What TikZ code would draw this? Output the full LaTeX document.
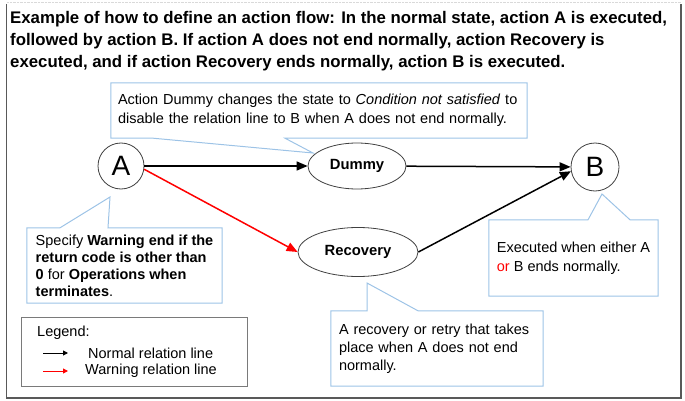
\documentclass[tikz,border=0pt]{standalone}
\usepackage{fontspec}
\setmainfont{Liberation Sans}
\usetikzlibrary{shapes.geometric, arrows.meta, positioning}
\definecolor{noteblue}{RGB}{157,195,230}
\definecolor{framegray}{RGB}{89,89,89}
\definecolor{shapegray}{RGB}{64,64,64}

\begin{document}
\begin{tikzpicture}[
    x=1pt, y=-1pt,
    state/.style={
        circle,
        draw=shapegray,
        line width=0.8pt,
        inner sep=0pt,
        font=\fontsize{28}{28}\selectfont
    },
    action/.style={
        ellipse,
        draw=shapegray,
        line width=0.8pt,
        inner sep=0pt,
        font=\fontsize{14.8}{18}\selectfont\bfseries
    },
    note/.style={
        inner xsep=7pt,
        inner ysep=0pt,
        align=left,
        font=\fontsize{14.5}{19}\selectfont
    },
    noteline/.style={draw=noteblue, line width=1pt},
    arrow/.style={-{Triangle[length=11pt, width=9pt]}, line width=1.5pt},
    warn/.style={arrow, color=red},
    legarrow/.style={-{Triangle[length=5pt, width=5pt]}, line width=1pt}
]
\useasboundingbox (0,0) rectangle (685,401);

% outer frame
\draw[black!15, densely dotted] (7,2) -- (681,2);
\draw[framegray, line width=1pt] (6,4) -- (6,398);
\draw[framegray, line width=2pt] (6,398) -- (681,398) -- (681,4);

% title
\node[anchor=north west, align=left, inner sep=0pt,
      font=\fontsize{16.8}{22}\selectfont\bfseries] (title) at (10,11.5)
    {Example of how to define an action flow: In the normal state, action A is executed,\\
     followed by action B. If action A does not end normally, action Recovery is\\
     executed, and if action Recovery ends normally, action B is executed.};

% actions
\node[state, minimum size=46pt] (A) at (121,166) {A};
\node[action, minimum width=98pt, minimum height=46pt] (dummy) at (357,166) {Dummy};
\node[action, minimum width=120pt, minimum height=49pt] (recovery) at (358,252) {Recovery};
\node[state, minimum size=48pt] (B) at (595,167) {B};

\draw[arrow] (A) -- (dummy);
\draw[arrow] (dummy) -- (B);
\draw[arrow] (recovery.east) -- (B.190);
\draw[warn] (A.-8) -- (recovery.west);

% callouts
\node[note, text width=402pt, minimum width=416pt, minimum height=55pt] (dummynote) at (319,110.5)
    {Action Dummy changes the state to \textit{Condition not satisfied} to\\
     disable the relation line to B when A does not end normally.};
\coordinate (dummytip) at (313,153);
\draw[noteline] (dummynote.north west) -- (dummynote.north east) -- (dummynote.south east)
    -- (285,0 |- dummynote.south) -- (dummytip) -- (153,0 |- dummynote.south)
    -- (dummynote.south west) -- cycle;

\node[note, minimum width=195pt, minimum height=75pt,
      font=\fontsize{14.5}{17}\selectfont] (warnnote) at (124.5,265.5)
    {Specify \textbf{Warning end if the}\\
     \textbf{return code is other than}\\
     \textbf{0} for \textbf{Operations when}\\
     \textbf{terminates}.};
\coordinate (warntip) at (110,197);
\draw[noteline] (warnnote.south west) -- (warnnote.north west) -- (60,0 |- warnnote.north)
    -- (warntip) -- (108,0 |- warnnote.north) -- (warnnote.north east)
    -- (warnnote.south east) -- cycle;

\node[note, minimum width=169pt, minimum height=76pt] (bnote) at (573.5,258)
    {Executed when either A\\
     \textcolor{red}{or} B ends normally.};
\coordinate (btip) at (602,194);
\draw[noteline] (bnote.south west) -- (bnote.north west) -- (588,0 |- bnote.north)
    -- (btip) -- (630,0 |- bnote.north) -- (bnote.north east)
    -- (bnote.south east) -- cycle;

\node[note, inner xsep=8pt, text width=196pt, minimum width=212pt, minimum height=75pt,
      font=\fontsize{14.5}{18}\selectfont] (recnote) at (437,348.5)
    {A recovery or retry that takes\\
     place when A does not end\\
     normally.};
\coordinate (rectip) at (367,283);
\draw[noteline] (recnote.south west) -- (recnote.north west) -- (rectip |- recnote.north)
    -- (rectip) -- (418,0 |- recnote.north) -- (recnote.north east)
    -- (recnote.south east) -- cycle;

% legend
\node[draw=framegray!80, line width=1pt, minimum width=226pt, minimum height=69pt] (legend) at (134,351.5) {};
\node[note, anchor=west, inner xsep=0pt] (legendtitle) at (37,333) {Legend:};
\coordinate (normalstart) at (43,353);
\coordinate (normalend) at (68,353);
\draw[legarrow] (normalstart) -- (normalend);
\node[note, anchor=west, inner xsep=0pt] (normaltext) at (88,353) {Normal relation line};
\coordinate (warnstart) at (43,371);
\coordinate (warnend) at (68,371);
\draw[legarrow, color=red] (warnstart) -- (warnend);
\node[note, anchor=west, inner xsep=0pt] (warntext) at (85,371) {Warning relation line};

\end{tikzpicture}
\end{document}
